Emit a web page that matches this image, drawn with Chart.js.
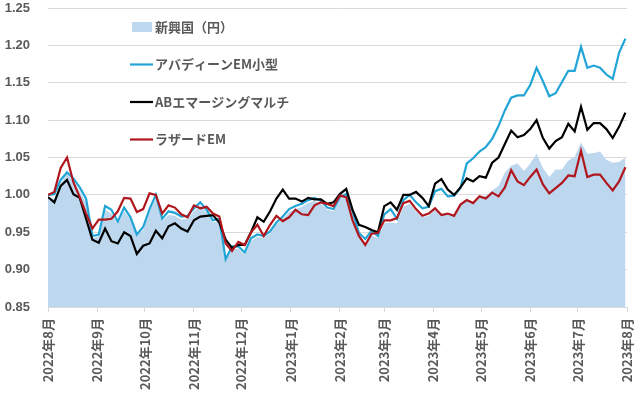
<!DOCTYPE html>
<html lang="ja">
<head>
<meta charset="utf-8">
<title>新興国株ファンド比較</title>
<script src="https://cdn.jsdelivr.net/npm/chart.js@4.4.1/dist/chart.umd.min.js"></script>
<style>
    html, body { margin: 0; padding: 0; background: #fff; }
    #wrap { width: 640px; height: 398px; position: relative; }
</style>
</head>
<body>
<div id="wrap"><canvas id="chart"></canvas></div>
<script>
// ------------------------------------------------------------
// Data (days counted from 2022-08-01, values indexed to 1.00)
// ------------------------------------------------------------
const monthStarts = [0, 31, 61, 92, 122, 153, 184, 212, 243, 273, 304, 334, 365];
const monthLabels = ['2022年8月', '2022年9月', '2022年10月', '2022年11月', '2022年12月',
    '2023年1月', '2023年2月', '2023年3月', '2023年4月', '2023年5月', '2023年6月',
    '2023年7月', '2023年8月'];

const days = [
    0, 4, 8, 12, 16, 20, 24, 28, 32, 36,
    40, 44, 48, 52, 56, 60, 64, 68, 72, 76,
    80, 84, 88, 92, 96, 100, 104, 108, 112, 116,
    120, 124, 128, 132, 136, 140, 144, 148, 152, 156,
    160, 164, 168, 172, 176, 180, 184, 188, 192, 196,
    200, 204, 208, 212, 216, 220, 224, 228, 232, 236,
    240, 244, 248, 252, 256, 260, 264, 268, 272, 276,
    280, 284, 288, 292, 296, 300, 304, 308, 312, 316,
    320, 324, 328, 332, 336, 340, 344, 348, 352, 356,
    360, 364
];

// 新興国（円）
const emIndex = [
    0.995, 0.995, 1.015, 1.028, 1.018, 1.005, 0.990, 0.942, 0.945, 0.980,
    0.975, 0.960, 0.978, 0.967, 0.945, 0.953, 0.977, 0.995, 0.965, 0.973,
    0.972, 0.967, 0.968, 0.978, 0.985, 0.977, 0.963, 0.965, 0.912, 0.927,
    0.928, 0.920, 0.938, 0.944, 0.942, 0.948, 0.960, 0.968, 0.977, 0.981,
    0.984, 0.989, 0.992, 0.988, 0.980, 0.978, 0.994, 0.998, 0.972, 0.945,
    0.936, 0.946, 0.942, 0.962, 0.963, 0.962, 0.984, 0.988, 0.978, 0.970,
    0.972, 0.980, 0.975, 0.976, 0.974, 0.986, 0.993, 0.990, 0.998, 0.998,
    1.006, 1.012, 1.030, 1.039, 1.042, 1.032, 1.042, 1.055, 1.036, 1.024,
    1.034, 1.034, 1.046, 1.051, 1.070, 1.055, 1.056, 1.058, 1.047, 1.043,
    1.044, 1.050
];

// アバディーンEM小型
const aberdeen = [
    1.000, 1.001, 1.020, 1.030, 1.022, 1.010, 0.995, 0.945, 0.947, 0.985,
    0.980, 0.964, 0.983, 0.970, 0.947, 0.957, 0.981, 1.000, 0.968, 0.978,
    0.976, 0.971, 0.972, 0.982, 0.990, 0.980, 0.966, 0.968, 0.914, 0.931,
    0.931, 0.923, 0.942, 0.947, 0.945, 0.951, 0.963, 0.971, 0.981, 0.985,
    0.988, 0.993, 0.996, 0.992, 0.983, 0.981, 0.997, 1.001, 0.978, 0.949,
    0.941, 0.952, 0.945, 0.974, 0.981, 0.968, 0.993, 1.000, 0.990, 0.982,
    0.984, 1.005, 1.008, 0.998, 0.999, 1.009, 1.042, 1.049, 1.058, 1.064,
    1.075, 1.092, 1.113, 1.130, 1.133, 1.133, 1.147, 1.170, 1.152, 1.132,
    1.136, 1.151, 1.166, 1.166, 1.198, 1.170, 1.173, 1.170, 1.161, 1.155,
    1.190, 1.209
];

// ABエマージングマルチ
const abMulti = [
    0.997, 0.990, 1.012, 1.020, 1.001, 0.996, 0.968, 0.940, 0.936, 0.955,
    0.938, 0.935, 0.950, 0.945, 0.921, 0.932, 0.935, 0.952, 0.942, 0.958,
    0.962, 0.955, 0.951, 0.966, 0.971, 0.972, 0.973, 0.963, 0.940, 0.929,
    0.933, 0.933, 0.950, 0.970, 0.964, 0.978, 0.995, 1.007, 0.995, 0.995,
    0.991, 0.996, 0.994, 0.994, 0.988, 0.990, 1.001, 1.008, 0.980, 0.960,
    0.957, 0.953, 0.950, 0.985, 0.990, 0.980, 1.000, 1.000, 1.004, 0.996,
    0.985, 1.015, 1.021, 1.007, 1.000, 1.010, 1.022, 1.018, 1.025, 1.023,
    1.043, 1.050, 1.068, 1.086, 1.077, 1.080, 1.088, 1.100, 1.076, 1.062,
    1.072, 1.077, 1.095, 1.085, 1.118, 1.087, 1.096, 1.096, 1.088, 1.076,
    1.091, 1.110
];

// ラザードEM
const lazard = [
    1.000, 1.004, 1.036, 1.050, 1.017, 0.997, 0.975, 0.955, 0.967, 0.967,
    0.968, 0.978, 0.996, 0.995, 0.977, 0.981, 1.002, 1.000, 0.975, 0.986,
    0.983, 0.974, 0.970, 0.986, 0.982, 0.984, 0.975, 0.971, 0.935, 0.925,
    0.937, 0.933, 0.950, 0.960, 0.945, 0.960, 0.972, 0.965, 0.970, 0.980,
    0.974, 0.973, 0.986, 0.990, 0.988, 0.985, 0.999, 0.997, 0.966, 0.945,
    0.933, 0.948, 0.949, 0.966, 0.966, 0.969, 0.989, 0.992, 0.981, 0.972,
    0.975, 0.982, 0.973, 0.975, 0.972, 0.987, 0.993, 0.989, 0.998, 0.995,
    1.003, 0.998, 1.010, 1.033, 1.018, 1.013, 1.024, 1.034, 1.014, 1.002,
    1.009, 1.016, 1.026, 1.025, 1.059, 1.024, 1.027, 1.027, 1.016, 1.006,
    1.018, 1.037
];

const yTicks = [0.85, 0.90, 0.95, 1.00, 1.05, 1.10, 1.15, 1.20, 1.25];

// ------------------------------------------------------------
// Helpers
// ------------------------------------------------------------
const TEXT = '#595959';
const GRID = '#d9d9d9';
const JP_FONT = '"Noto Sans CJK JP", "Noto Sans", sans-serif';

function toPoints(values) {
    return days.map((d, i) => ({ x: d, y: values[i] }));
}

function lineSet(label, values, color, order) {
    return {
        type: 'line',
        label: label,
        data: toPoints(values),
        borderColor: color,
        backgroundColor: color,
        borderWidth: 2.2,
        pointRadius: 0,
        tension: 0,
        fill: false,
        order: order
    };
}

// Legend drawn inside the plot, stacked vertically
const insideLegend = {
    id: 'insideLegend',
    afterDraw(chart) {
        const ctx = chart.ctx;
        const area = chart.chartArea;
        const x0 = area.left + 82;
        ctx.save();
        ctx.font = 'bold 13px ' + JP_FONT;
        ctx.textBaseline = 'middle';
        chart.data.datasets.forEach((ds, i) => {
            const y = area.top + 19 + 37.5 * i;
            if (ds.fill) {
                ctx.fillStyle = ds.backgroundColor;
                ctx.fillRect(x0 + 2, y - 5, 20, 10);
            } else {
                ctx.strokeStyle = ds.borderColor;
                ctx.lineWidth = 2.2;
                ctx.beginPath();
                ctx.moveTo(x0, y);
                ctx.lineTo(x0 + 23, y);
                ctx.stroke();
            }
            ctx.fillStyle = TEXT;
            ctx.fillText(ds.label, x0 + 25, y);
        });
        ctx.restore();
    }
};

// ------------------------------------------------------------
// Chart
// ------------------------------------------------------------
const ctx = document.getElementById('chart').getContext('2d');

new Chart(ctx, {
    type: 'line',
    data: {
        datasets: [
            {
                type: 'line',
                label: '新興国（円）',
                data: toPoints(emIndex),
                borderWidth: 0,
                borderColor: 'rgba(0,0,0,0)',
                backgroundColor: '#bdd7ee',
                pointRadius: 0,
                tension: 0,
                fill: 'start',
                order: 4
            },
            lineSet('アバディーンEM小型', aberdeen, '#22a5d6', 3),
            lineSet('ABエマージングマルチ', abMulti, '#000000', 2),
            lineSet('ラザードEM', lazard, '#b0161d', 1)
        ]
    },
    options: {
        responsive: true,
        maintainAspectRatio: false,
        animation: false,
        layout: { padding: { top: 8, right: 13, left: 0, bottom: 0 } },
        plugins: {
            legend: { display: false },
            tooltip: { enabled: false }
        },
        scales: {
            x: {
                type: 'linear',
                min: 0,
                max: 365,
                afterBuildTicks: (scale) => {
                    scale.ticks = monthStarts.map(v => ({ value: v }));
                },
                afterFit: (scale) => {
                    scale.height = 91;
                    scale.paddingLeft = 0;
                    scale.paddingRight = 0;
                },
                border: { display: true, color: GRID },
                grid: { drawOnChartArea: false, color: GRID, tickLength: 5 },
                ticks: {
                    autoSkip: false,
                    minRotation: 90,
                    maxRotation: 90,
                    padding: 6,
                    color: TEXT,
                    font: { family: JP_FONT, size: 13, weight: 'bold' },
                    callback: (v) => monthLabels[monthStarts.indexOf(v)]
                }
            },
            y: {
                min: 0.85,
                max: 1.25,
                afterBuildTicks: (scale) => {
                    scale.ticks = yTicks.map(v => ({ value: v }));
                },
                afterFit: (scale) => {
                    scale.width = 48;
                    scale.paddingTop = 0;
                    scale.paddingBottom = 0;
                },
                border: { display: false },
                grid: { color: GRID, drawTicks: false },
                ticks: {
                    padding: 18,
                    color: TEXT,
                    font: { family: '"Liberation Sans", sans-serif', size: 13, weight: 'bold' },
                    callback: (v) => v.toFixed(2)
                }
            }
        }
    },
    plugins: [insideLegend]
});
</script>
</body>
</html>
